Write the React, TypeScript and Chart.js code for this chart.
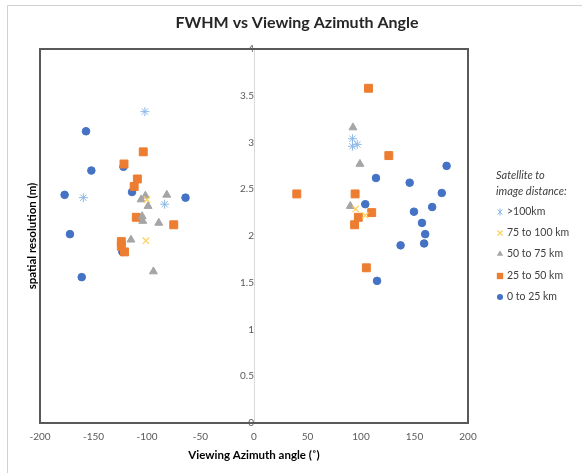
import React, { useEffect, useRef } from "react";
import { Chart, registerables } from "chart.js";

Chart.register(...registerables);

const FONT = "Lato, 'Open Sans', sans-serif";

const seriesNames = [">100km", "75 to 100 km", "50 to 75 km", "25 to 50 km", "0 to 25 km"];

const farX = [-102, -159.5, -83.5, 92, 96.5, 92];
const farY = [3.33, 2.41, 2.34, 3.04, 2.98, 2.96];

const mid75X = [-100, -101, 95, 104];
const mid75Y = [2.39, 1.95, 2.29, 2.22];

const mid50X = [-101.5, -105.5, -99, -81.5, -104.5, -104, -89, -115, -94, 92.5, 99, 90];
const mid50Y = [2.43, 2.39, 2.32, 2.44, 2.21, 2.16, 2.14, 1.96, 1.62, 3.16, 2.77, 2.32];

const near25X = [-103.5, -121.5, -109, -112, -110, -75, -124, -124, -121, 107, 126, 40, 94.5, 110, 97.5, 94, 105];
const near25Y = [2.9, 2.77, 2.61, 2.53, 2.2, 2.12, 1.94, 1.89, 1.83, 3.58, 2.86, 2.45, 2.45, 2.25, 2.2, 2.12, 1.66];

const near0X = [-157, -152, -122, -177, -114, -64, -172, -123, -161, 114, 145.5, 180, 175.5, 166.5, 104, 149.5, 157, 160, 159, 137, 115];
const near0Y = [3.12, 2.7, 2.74, 2.44, 2.47, 2.41, 2.02, 1.83, 1.56, 2.62, 2.57, 2.75, 2.46, 2.31, 2.34, 2.26, 2.14, 2.02, 1.92, 1.9, 1.52];

const titleText = "FWHM vs Viewing Azimuth Angle";
const xTitle = "Viewing Azimuth angle (˚)";
const yTitle = "spatial resolution (m)";
const legendTitle = ["Satellite to", "image distance:"];

const toPts = (xs: number[], ys: number[]) => xs.map((x, i) => ({ x, y: ys[i] }));

const styles = [
  { color: "#8cb8e6", style: "star", radius: 4.5, border: 1 },
  { color: "#ffd05a", style: "crossRot", radius: 4.5, border: 1.2 },
  { color: "#a5a5a5", style: "triangle", radius: 4.6, border: 1 },
  { color: "#ed7d31", style: "rect", radius: 5.6, border: 1 },
  { color: "#4472c4", style: "circle", radius: 3.8, border: 1 },
];

function drawMarker(ctx: CanvasRenderingContext2D, style: string, x: number, y: number, r: number) {
  ctx.beginPath();
  if (style === "circle") {
    ctx.arc(x, y, r, 0, Math.PI * 2);
    ctx.fill();
  } else if (style === "rect") {
    const s = r * Math.SQRT1_2;
    ctx.fillRect(x - s, y - s, 2 * s, 2 * s);
  } else if (style === "triangle") {
    ctx.moveTo(x, y - r);
    ctx.lineTo(x + r * 0.866, y + r * 0.5);
    ctx.lineTo(x - r * 0.866, y + r * 0.5);
    ctx.closePath();
    ctx.fill();
  } else if (style === "crossRot") {
    const s = r * Math.SQRT1_2;
    ctx.moveTo(x - s, y - s);
    ctx.lineTo(x + s, y + s);
    ctx.moveTo(x + s, y - s);
    ctx.lineTo(x - s, y + s);
    ctx.stroke();
  } else {
    const s = r * Math.SQRT1_2;
    ctx.moveTo(x - s, y - s);
    ctx.lineTo(x + s, y + s);
    ctx.moveTo(x + s, y - s);
    ctx.lineTo(x - s, y + s);
    ctx.moveTo(x, y - r);
    ctx.lineTo(x, y + r);
    ctx.stroke();
  }
}

const decorPlugin = {
  id: "decor",
  beforeDatasetsDraw(chart: any) {
    const { ctx, chartArea: a } = chart;
    ctx.save();
    ctx.strokeStyle = "#595959";
    ctx.lineWidth = 2;
    ctx.strokeRect(a.left, a.top, a.right - a.left, a.bottom - a.top);
    ctx.restore();
  },
  afterDraw(chart: any) {
    const { ctx, chartArea: a } = chart;
    ctx.save();
    ctx.strokeStyle = "#d0d0d0";
    ctx.lineWidth = 1;
    ctx.beginPath();
    ctx.moveTo(7.5, 473);
    ctx.lineTo(7.5, 5.5);
    ctx.lineTo(582, 5.5);
    ctx.stroke();
    ctx.fillStyle = "#262626";
    ctx.font = `bold 16px ${FONT}`;
    ctx.textAlign = "center";
    ctx.textBaseline = "middle";
    ctx.fillText(titleText, 297, 23);
    ctx.font = `bold 11.5px ${FONT}`;
    ctx.fillStyle = "#000000";
    ctx.fillText(xTitle, (a.left + a.right) / 2, 455);
    ctx.save();
    ctx.translate(32, (a.top + a.bottom) / 2);
    ctx.rotate(-Math.PI / 2);
    ctx.fillText(yTitle, 0, 0);
    ctx.restore();
    ctx.textAlign = "left";
    ctx.fillStyle = "#404040";
    ctx.font = `italic 11px ${FONT}`;
    ctx.fillText(legendTitle[0], 496, 175);
    ctx.fillText(legendTitle[1], 496, 191);
    ctx.font = `10.5px ${FONT}`;
    const rows = [212, 233, 254, 276, 297];
    seriesNames.forEach((name, i) => {
      const s = styles[i];
      ctx.fillStyle = "#404040";
      ctx.fillText(name, 507, rows[i]);
      ctx.fillStyle = s.color;
      ctx.strokeStyle = s.color;
      ctx.lineWidth = s.border;
      drawMarker(ctx, s.style, 500, rows[i], s.radius * 0.8);
    });
    ctx.restore();
  },
};

export default function App() {
  const ref = useRef<HTMLCanvasElement>(null);
  useEffect(() => {
    if (!ref.current) return;
    const all = [
      toPts(farX, farY),
      toPts(mid75X, mid75Y),
      toPts(mid50X, mid50Y),
      toPts(near25X, near25Y),
      toPts(near0X, near0Y),
    ];
    const chart = new Chart(ref.current, {
      type: "scatter",
      data: {
        datasets: all.map((d, i) => ({
          label: seriesNames[i],
          data: d,
          pointStyle: styles[i].style as any,
          pointRadius: styles[i].radius,
          pointBackgroundColor: styles[i].color,
          pointBorderColor: styles[i].color,
          pointBorderWidth: styles[i].border,
        })),
      },
      options: {
        animation: false,
        responsive: false,
        maintainAspectRatio: false,
        layout: { padding: { top: 49, left: 40, right: 114, bottom: 0 } },
        plugins: { legend: { display: false }, tooltip: { enabled: false }, title: { display: false } },
        scales: {
          x: {
            type: "linear",
            position: "bottom",
            min: -200,
            max: 200,
            afterFit: (s: any) => {
              s.height = 50;
            },
            ticks: { stepSize: 50, color: "#595959", font: { family: FONT, size: 10 }, padding: 8 },
            grid: { display: false, drawTicks: false },
            border: { display: false },
          },
          y: {
            type: "linear",
            position: { x: 0 } as any,
            min: 0,
            max: 4,
            ticks: {
              stepSize: 0.5,
              color: "#595959",
              font: { family: FONT, size: 10 },
              padding: 9,
              callback: (v: any) => String(Number(v)),
            },
            grid: { display: false, drawTicks: false },
            border: { display: true, color: "#d9d9d9", width: 1 },
          },
        },
      },
      plugins: [decorPlugin],
    });
    return () => chart.destroy();
  }, []);
  return (
    <div style={{ position: "fixed", left: 0, top: 0, width: 582, height: 473, background: "#fff" }}>
      <canvas ref={ref} width={582} height={473} style={{ width: 582, height: 473 }} />
    </div>
  );
}
